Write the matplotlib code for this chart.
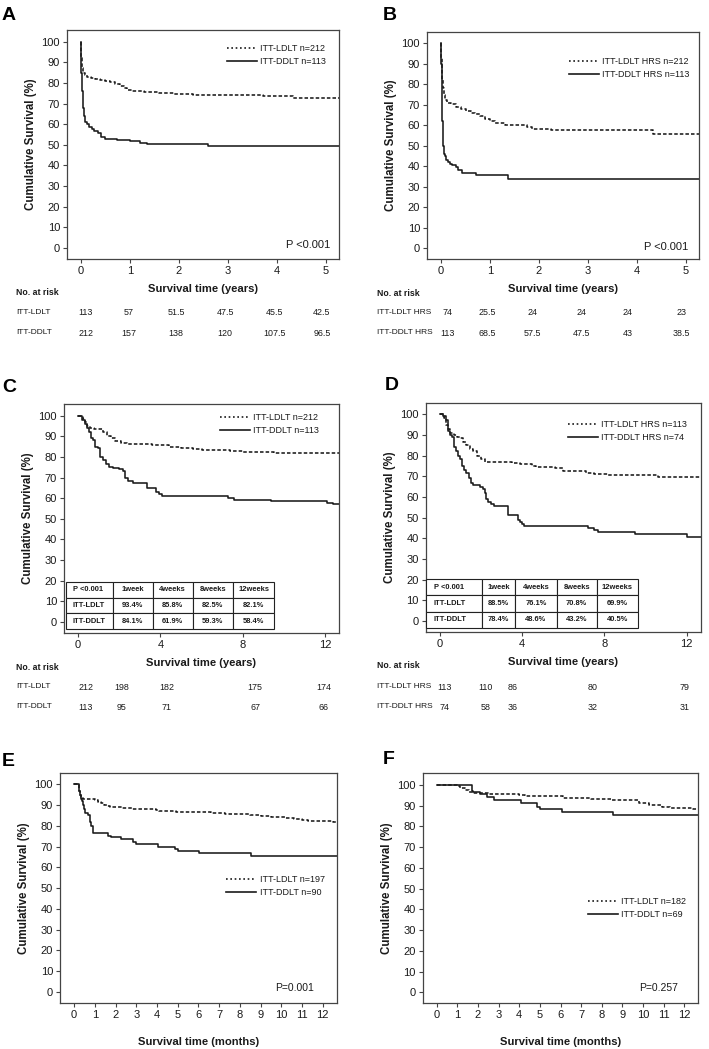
import matplotlib
matplotlib.use("Agg")
import matplotlib.pyplot as plt
import matplotlib.transforms as mtransforms
from matplotlib.lines import Line2D

plt.rcParams['font.family'] = ['Liberation Sans', 'DejaVu Sans']

W, H = 709, 1049

# ---------------- data: step curves (time, survival %) ----------------
# A: years
a_ldlt_t = [0, 0.005, 0.01, 0.02, 0.03, 0.05, 0.08, 0.12, 0.2, 0.3, 0.4, 0.5, 0.6, 0.7, 0.8, 0.88, 0.95, 1.05, 1.3, 1.6, 1.9, 2.3, 3.72, 4.33, 5.3]
a_ldlt_s = [100, 96, 92, 89, 87, 85, 84, 83, 82.5, 82, 81.5, 81, 80.5, 79.5, 78.5, 77.5, 76.5, 76, 75.5, 75, 74.5, 74, 73.5, 72.5, 72.5]
a_ddlt_t = [0, 0.005, 0.01, 0.015, 0.02, 0.03, 0.04, 0.05, 0.06, 0.08, 0.12, 0.17, 0.22, 0.28, 0.35, 0.42, 0.5, 0.75, 1.0, 1.2, 1.35, 2.6, 5.3]
a_ddlt_s = [100, 95, 90, 85, 80, 76, 72, 68, 64, 61, 60, 58.5, 57.5, 56.5, 55.5, 54, 53, 52.5, 52, 51, 50.5, 49.5, 49.5]

# B: years
b_ldlt_t = [0, 0.005, 0.01, 0.02, 0.03, 0.05, 0.08, 0.12, 0.2, 0.3, 0.4, 0.5, 0.6, 0.7, 0.8, 0.9, 1.0, 1.1, 1.3, 1.75, 1.85, 2.25, 4.33, 5.3]
b_ldlt_s = [100, 93, 87, 82, 78, 75, 72.5, 71, 70.5, 69, 68, 67, 66, 65.5, 64.5, 63, 62, 61, 60, 59, 58, 57.5, 56, 56]
b_ddlt_t = [0, 0.005, 0.01, 0.015, 0.02, 0.03, 0.04, 0.05, 0.07, 0.1, 0.13, 0.17, 0.22, 0.3, 0.35, 0.42, 0.72, 1.37, 5.3]
b_ddlt_s = [100, 90, 80, 70, 62, 55, 50, 46, 45, 43, 42, 41, 40.5, 39.5, 38, 36.5, 35.5, 34, 34]

# C: years
c_ldlt_t = [0, 0.25, 0.35, 0.45, 0.6, 0.8, 1.0, 1.2, 1.4, 1.6, 1.8, 2.1, 2.4, 3.6, 4.4, 5.0, 5.6, 6.0, 7.4, 8.0, 9.5, 12.7]
c_ldlt_s = [100, 98.5, 97, 95, 94, 93.5, 93.4, 92, 90, 89, 87.5, 86.5, 86, 85.8, 85, 84.5, 84, 83.5, 83, 82.5, 82.1, 82.1]
c_ddlt_t = [0, 0.2, 0.35, 0.45, 0.55, 0.65, 0.75, 0.85, 0.95, 1.05, 1.2, 1.35, 1.5, 1.7, 2.0, 2.2, 2.3, 2.45, 2.65, 3.35, 3.8, 3.95, 4.1, 7.3, 7.6, 9.4, 12.1, 12.4, 12.7]
c_ddlt_s = [100, 98, 96, 94, 92, 89, 88, 85, 84.1, 80, 78.5, 76.5, 75, 74.5, 74, 73, 70, 68.5, 67.5, 65, 63, 62, 61, 60, 59.3, 58.4, 57.5, 57, 57]

# D: years
d_ldlt_t = [0, 0.2, 0.3, 0.4, 0.5, 0.7, 0.85, 1.0, 1.15, 1.3, 1.45, 1.6, 1.8, 2.0, 2.2, 3.5, 3.9, 4.5, 4.7, 5.6, 6.0, 7.1, 7.5, 8.2, 10.6, 12.7]
d_ldlt_s = [100, 98, 95, 93, 91, 90, 89, 88.5, 86.5, 85, 83, 82, 80, 78.5, 77, 76.5, 76.1, 75, 74.5, 74, 72.5, 71.5, 71, 70.8, 69.9, 69.9]
d_ddlt_t = [0, 0.15, 0.3, 0.4, 0.5, 0.6, 0.7, 0.8, 0.9, 1.0, 1.1, 1.2, 1.3, 1.4, 1.5, 1.6, 1.95, 2.1, 2.2, 2.25, 2.35, 2.5, 2.65, 3.3, 3.8, 3.9, 4.0, 4.1, 7.2, 7.5, 7.7, 9.5, 12.0, 12.7]
d_ddlt_s = [100, 99, 97, 92, 90, 89, 84, 82, 80, 78.4, 75, 73, 71.5, 69, 67, 66, 65, 64, 62, 59, 57.5, 56.5, 55.5, 51.5, 49, 48, 47, 46, 45, 44, 43.2, 42, 40.5, 40.5]

# E: months
e_ldlt_t = [0, 0.25, 0.3, 0.35, 0.4, 0.45, 1.0, 1.15, 1.3, 1.45, 1.6, 1.75, 2.3, 2.8, 3.95, 4.1, 4.9, 6.6, 7.3, 8.5, 9.0, 9.5, 10.2, 10.6, 11.0, 11.3, 12.5, 12.7]
e_ldlt_s = [100, 97, 95, 94, 93.5, 93, 92.5, 91.5, 91, 90, 89.5, 89, 88.5, 88.3, 87.5, 87.2, 86.7, 86.2, 85.8, 85.2, 84.7, 84.2, 83.7, 83.2, 82.7, 82.2, 81.7, 81.7]
e_ddlt_t = [0, 0.25, 0.3, 0.35, 0.4, 0.45, 0.5, 0.55, 0.65, 0.75, 0.82, 0.9, 1.65, 1.8, 2.25, 2.85, 3.0, 4.05, 4.85, 5.0, 6.05, 8.55, 12.7]
e_ddlt_s = [100, 97, 95, 93, 92, 90, 88, 86, 85, 82, 80, 76.8, 75.3, 74.5, 73.5, 72, 71.2, 70, 69, 67.7, 66.7, 65.7, 65.7]

# F: months
f_ldlt_t = [0, 1.0, 1.15, 1.35, 1.55, 1.75, 2.5, 4.0, 4.3, 6.1, 7.5, 8.5, 9.8, 10.3, 10.9, 11.3, 12.4, 12.7]
f_ldlt_s = [100, 99.5, 98.5, 97.5, 96.5, 96, 95.5, 95, 94.5, 93.8, 93.3, 92.5, 91.5, 90.5, 89.5, 88.8, 88.3, 88.3]
f_ddlt_t = [0, 1.7, 1.75, 2.1, 2.45, 2.8, 4.1, 4.85, 5.0, 6.05, 8.55, 12.7]
f_ddlt_s = [100, 97, 96.5, 95.5, 94, 92.7, 91.2, 89.5, 88.2, 86.9, 85.6, 85.6]

# legends
a_labels = ['ITT-LDLT n=212', 'ITT-DDLT n=113']
b_labels = ['ITT-LDLT HRS n=212', 'ITT-DDLT HRS n=113']
c_labels = ['ITT-LDLT n=212', 'ITT-DDLT n=113']
d_labels = ['ITT-LDLT HRS n=113', 'ITT-DDLT HRS n=74']
e_labels = ['ITT-LDLT n=197', 'ITT-DDLT n=90']
f_labels = ['ITT-LDLT n=182', 'ITT-DDLT n=69']

p_values = ['P <0.001', 'P <0.001', None, None, 'P=0.001', 'P=0.257']

# numbers at risk
a_risk_x = [0.1, 0.98, 1.95, 2.95, 3.95, 4.92]
a_risk_rows = ['ITT-LDLT', 'ITT-DDLT']
a_risk = [['113', '57', '51.5', '47.5', '45.5', '42.5'],
          ['212', '157', '138', '120', '107.5', '96.5']]
b_risk_x = [0.12, 0.95, 1.86, 2.86, 3.81, 4.91]
b_risk_rows = ['ITT-LDLT HRS', 'ITT-DDLT HRS']
b_risk = [['74', '25.5', '24', '24', '24', '23'],
          ['113', '68.5', '57.5', '47.5', '43', '38.5']]
c_risk_x = [0.37, 2.12, 4.3, 8.6, 11.95]
c_risk_rows = ['ITT-LDLT', 'ITT-DDLT']
c_risk = [['212', '198', '182', '175', '174'],
          ['113', '95', '71', '67', '66']]
d_risk_x = [0.25, 2.22, 3.55, 7.45, 11.9]
d_risk_rows = ['ITT-LDLT HRS', 'ITT-DDLT HRS']
d_risk = [['113', '110', '86', '80', '79'],
          ['74', '58', '36', '32', '31']]

# inset survival tables
c_table = [['P <0.001', '1week', '4weeks', '8weeks', '12weeks'],
           ['ITT-LDLT', '93.4%', '85.8%', '82.5%', '82.1%'],
           ['ITT-DDLT', '84.1%', '61.9%', '59.3%', '58.4%']]
d_table = [['P <0.001', '1week', '4weeks', '8weeks', '12weeks'],
           ['ITT-LDLT', '88.5%', '76.1%', '70.8%', '69.9%'],
           ['ITT-DDLT', '78.4%', '48.6%', '43.2%', '40.5%']]

# ---------------- figure ----------------
fig = plt.figure(figsize=(W / 100, H / 100), dpi=100)


def px_axes(l, r, t, b):
    return fig.add_axes([l / W, 1 - b / H, (r - l) / W, (b - t) / H])


FRAME = '#444444'
LINE = '#1a1a1a'
TXT = '#1a1a1a'


def setup(ax, xlim, xticks, xlabel, xlabelpad):
    ax.set_xlim(xlim)
    ax.set_ylim(-5.3, 105.6)
    ax.set_yticks(range(0, 101, 10))
    ax.set_xticks(xticks)
    for s in ax.spines.values():
        s.set_color(FRAME)
        s.set_linewidth(0.9)
    ax.tick_params(direction='out', length=3, width=0.8, color=FRAME,
                   labelsize=8, pad=2, labelcolor=TXT)
    ax.set_ylabel('Cumulative Survival (%)', fontsize=8.3, fontweight='bold', labelpad=3, color=TXT)
    ax.set_xlabel(xlabel, fontsize=8.1, fontweight='bold', labelpad=xlabelpad, color=TXT)


def curves(ax, ldlt_t, ldlt_s, ddlt_t, ddlt_s):
    ax.step(ldlt_t, ldlt_s, where='post', color=LINE, lw=1.15, ls=(0, (2.2, 1.3)))
    ax.step(ddlt_t, ddlt_s, where='post', color=LINE, lw=1.15)


def legend(ax, labels, x, y):
    handles = [Line2D([], [], color=LINE, lw=1.2, ls=(0, (1, 1.6))),
               Line2D([], [], color=LINE, lw=1.2)]
    ax.legend(handles, labels, loc='upper left', bbox_to_anchor=(x, y),
              frameon=False, fontsize=6.5, handlelength=3.3, handletextpad=0.4,
              labelspacing=0.45, borderpad=0, borderaxespad=0, labelcolor=TXT)


def risk(ax, xs, rows, vals, label_x, y_head, y_rows):
    tr = mtransforms.blended_transform_factory(ax.transData, fig.transFigure)
    fig.text(label_x / W, 1 - y_head / H, 'No. at risk', fontsize=6.3,
             fontweight='bold', va='center', ha='left', color=TXT)
    for name, row, yy in zip(rows, vals, y_rows):
        fig.text(label_x / W, 1 - yy / H, name, fontsize=6.0, va='center', ha='left', color=TXT)
        for x, v in zip(xs, row):
            ax.text(x, 1 - yy / H, v, transform=tr, fontsize=6.4, va='center',
                    ha='center', color=TXT)


def inset_table(ax, cells, bbox, widths):
    tb = ax.table(cellText=cells, bbox=bbox, colWidths=widths, cellLoc='center')
    tb.auto_set_font_size(False)
    for (r, c), cell in tb.get_celld().items():
        cell.set_linewidth(0.8)
        cell.set_edgecolor('#222222')
        cell.set_facecolor('white')
        cell.get_text().set_fontsize(5.4)
        cell.get_text().set_fontweight('bold')
        cell.get_text().set_color(TXT)
        if c == 0:
            cell.get_text().set_ha('left')
            cell.PAD = 0.14
    tb.set_zorder(5)


# A
axA = px_axes(67, 339, 30, 259)
setup(axA, (-0.28, 5.27), range(0, 6), 'Survival time (years)', 6)
curves(axA, a_ldlt_t, a_ldlt_s, a_ddlt_t, a_ddlt_s)
legend(axA, a_labels, 0.588, 0.94)
axA.text(0.967, 0.061, p_values[0], transform=axA.transAxes, ha='right', va='center', fontsize=8, color=TXT)
risk(axA, a_risk_x, a_risk_rows, a_risk, 16, 293, [313, 333])

# B
axB = px_axes(427, 699, 32, 259)
setup(axB, (-0.29, 5.27), range(0, 6), 'Survival time (years)', 6)
curves(axB, b_ldlt_t, b_ldlt_s, b_ddlt_t, b_ddlt_s)
legend(axB, b_labels, 0.522, 0.89)
axB.text(0.96, 0.054, p_values[1], transform=axB.transAxes, ha='right', va='center', fontsize=8, color=TXT)
risk(axB, b_risk_x, b_risk_rows, b_risk, 377, 294, [313, 333])

# C
axC = px_axes(64, 339, 404, 633)
setup(axC, (-0.68, 12.68), [0, 4, 8, 12], 'Survival time (years)', 6)
curves(axC, c_ldlt_t, c_ldlt_s, c_ddlt_t, c_ddlt_s)
legend(axC, c_labels, 0.567, 0.96)
inset_table(axC, c_table, [0.007, 0.016, 0.757, 0.208], [47.3, 39.4, 40, 40.6, 41])
risk(axC, c_risk_x, c_risk_rows, c_risk, 16, 667, [687, 707])

# D
axD = px_axes(425.7, 700.7, 402.7, 632)
setup(axD, (-0.68, 12.68), [0, 4, 8, 12], 'Survival time (years)', 6)
curves(axD, d_ldlt_t, d_ldlt_s, d_ddlt_t, d_ddlt_s)
legend(axD, d_labels, 0.517, 0.925)
inset_table(axD, d_table, [0.0, 0.019, 0.771, 0.211], [56, 33.3, 41.7, 40, 41])
risk(axD, d_risk_x, d_risk_rows, d_risk, 377, 665, [687, 707])

# E
axE = px_axes(60, 337, 772.7, 1003)
setup(axE, (-0.68, 12.69), range(0, 13), 'Survival time (months)', 12)
curves(axE, e_ldlt_t, e_ldlt_s, e_ddlt_t, e_ddlt_s)
legend(axE, e_labels, 0.6, 0.556)
axE.text(0.917, 0.065, p_values[4], transform=axE.transAxes, ha='right', va='center', fontsize=7.5, color=TXT)

# F
axF = px_axes(422.7, 698.3, 773.3, 1003.3)
setup(axF, (-0.68, 12.68), range(0, 13), 'Survival time (months)', 12)
curves(axF, f_ldlt_t, f_ldlt_s, f_ddlt_t, f_ddlt_s)
legend(axF, f_labels, 0.6, 0.462)
axF.text(0.926, 0.066, p_values[5], transform=axF.transAxes, ha='right', va='center', fontsize=7.5, color=TXT)

# panel letters
for letter, x, y in [('A', 2, 15), ('B', 383, 15), ('C', 2, 387),
                     ('D', 385, 386), ('E', 2, 761), ('F', 383, 759)]:
    fig.text(x / W, 1 - y / H, letter, fontsize=14, fontweight='bold', ha='left', va='center')

fig.savefig('out.png', dpi=100)
